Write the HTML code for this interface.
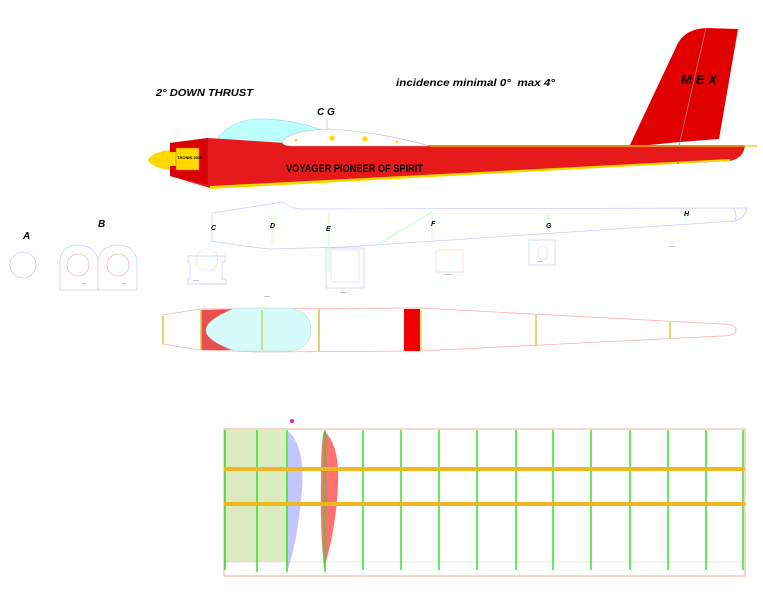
<!DOCTYPE html>
<html><head><meta charset="utf-8"><style>
html,body{margin:0;padding:0;background:#fff;}
svg{display:block;font-family:"Liberation Sans",sans-serif;}
</style></head><body>
<svg width="763" height="603" viewBox="0 0 763 603" xmlns="http://www.w3.org/2000/svg">
<text x="156" y="96" font-size="10" font-weight="bold" font-style="italic" textLength="97" lengthAdjust="spacingAndGlyphs">2° DOWN THRUST</text>
<text x="396" y="86" font-size="10" font-weight="bold" font-style="italic" textLength="159" lengthAdjust="spacingAndGlyphs" xml:space="preserve">incidence minimal 0°  max 4°</text>
<text x="317" y="115" font-size="10" font-weight="bold" font-style="italic">C G</text>
<line x1="327" y1="118" x2="327" y2="146" stroke="#bbb" stroke-width="0.6"/>
<path d="M629,147 L678,43 Q686,29 706,28 L738,29 L719,139 L680,142 Z" fill="#e00000"/>
<line x1="706" y1="28" x2="679" y2="146" stroke="#b88" stroke-width="0.7"/>
<text x="681" y="84" font-size="13" font-weight="bold" font-style="italic" textLength="36" lengthAdjust="spacing">M E X</text>
<path d="M213,146 Q225,122 255,119 Q290,118 325,131 L300,145 Z" fill="#bff" stroke="#9cf" stroke-width="0.6"/>
<path d="M170,143 L208,138 L285,143 L300,145 L745,145 Q744,158 730,161 L210,188 L170,176 Z" fill="#e61a1a"/>
<path d="M170,143 L208,138 L208,185 L170,176 Z" fill="#d80000"/>
<path d="M210,186 L730,159 L730,161 L210,189 Z" fill="#f0d800"/>
<line x1="430" y1="146" x2="757" y2="146" stroke="#e8d000" stroke-width="1.3"/>
<line x1="207" y1="140" x2="207" y2="184" stroke="#b22" stroke-width="0.6"/>
<line x1="678" y1="146" x2="678" y2="164" stroke="#a33" stroke-width="0.6"/>
<path d="M283,140 Q295,130 330,129 Q380,132 430,146 L290,146 Q280,145 283,140 Z" fill="#fff" stroke="#bbb" stroke-width="0.6"/>
<circle cx="332" cy="138" r="2.6" fill="#ffd800"/><circle cx="365" cy="139" r="2.6" fill="#ffd800"/>
<circle cx="296" cy="140" r="1.4" fill="#ffd800"/><circle cx="397" cy="142" r="1.4" fill="#ffd800"/>
<path d="M170,150 Q152,152 148,160 Q152,168 170,170 Z" fill="#ffd800"/>
<rect x="170" y="152" width="8" height="14" fill="#ffd800"/>
<rect x="176" y="148" width="23" height="22" fill="#ffd800" stroke="#d60" stroke-width="0.5"/>
<text x="177" y="159" font-size="4" font-weight="bold">TRONIK 2815</text>
<text x="286" y="172" font-size="11" font-weight="bold" textLength="137" lengthAdjust="spacingAndGlyphs">VOYAGER PIONEER OF SPIRIT</text>
<g fill="none" stroke="#c8c8ff" stroke-width="0.7">
<path d="M212,213 L283,202 Q290,208 300,209 L747,208 Q745,218 735,221 L345,247 L270,249 Q240,246 212,241 Z"/>
<path d="M734,208 Q738,218 734,221"/>
<path d="M60,290 L60,262 Q60,246 78,245 Q97,246 98,262 L98,290 Z M98,290 L98,262 Q99,246 118,245 Q136,246 137,262 L137,290 Z"/>
<path d="M188,256 L225,256 L225,262 L222,262 L222,279 L226,279 L226,284 L188,284 L188,279 L190,279 L190,262 L188,262 Z"/>
<rect x="326" y="248" width="38" height="40"/>
<rect x="529" y="240" width="26" height="25"/>
</g>
<g fill="none" stroke="#f4a0a0" stroke-width="0.6">
<circle cx="23" cy="265" r="13" stroke="#c8a8e0"/>
<ellipse cx="78" cy="265" rx="11" ry="11"/><ellipse cx="118" cy="265" rx="11" ry="11"/>
<ellipse cx="207" cy="260" rx="11" ry="11" stroke="#fcc"/>
<rect x="331" y="250" width="28" height="32" stroke="#fcc"/>
<rect x="436" y="250" width="27" height="22" stroke="#fcc"/>
<ellipse cx="543" cy="253" rx="5" ry="7" stroke="#fcc"/>
</g>
<g stroke="#bfb" stroke-width="0.8">
<line x1="272" y1="214" x2="272" y2="244"/><line x1="329" y1="212" x2="329" y2="272"/>
<line x1="432" y1="212" x2="377" y2="245"/><line x1="432" y1="212" x2="432" y2="242"/>
<line x1="548" y1="212" x2="548" y2="232"/><line x1="686" y1="212" x2="686" y2="222"/>
</g>
<g font-size="7" font-weight="bold" font-style="italic">
<text x="23" y="239" font-size="10">A</text><text x="98" y="227" font-size="10">B</text>
<text x="211" y="230">C</text><text x="270" y="228">D</text><text x="326" y="231">E</text>
<text x="431" y="226">F</text><text x="546" y="228">G</text><text x="684" y="216">H</text>
</g>
<g font-size="2" fill="#666"><text x="82" y="284">xxxx</text><text x="122" y="284">xxxx</text>
<text x="193" y="281">xxxxxx</text><text x="264" y="297">xxxxxx</text><text x="340" y="293">xxxxxx</text>
<text x="445" y="275">xxxxxx</text><text x="537" y="262">xxxxxx</text><text x="669" y="247">xxxxxx</text></g>
<path d="M163,315 L200,309 L420,308 L722,324 Q736,324 736,330 Q736,336 722,336 L420,351 L260,352 L200,350 L163,344 Z" fill="none" stroke="#f8b0b0" stroke-width="0.8"/>
<path d="M201,310 L235,309 Q207,320 207,330 Q207,340 235,350 L201,350 Z" fill="#e85050"/>
<path d="M235,308 L290,308 Q311,311 311,330 Q311,349 290,351 L235,351 Q205,340 206,330 Q206,320 235,308 Z" fill="#d5fbfb" stroke="#ccc" stroke-width="0.5"/>
<rect x="404" y="309" width="16" height="42" fill="#f00000"/>
<g stroke="#d8c840" stroke-width="1.5"><line x1="163" y1="316" x2="163" y2="344"/><line x1="201" y1="310" x2="201" y2="350"/>
<line x1="262" y1="310" x2="262" y2="350" stroke="#b8e060"/><line x1="319" y1="309" x2="319" y2="351"/><line x1="421" y1="309" x2="421" y2="351" stroke="#f0e050"/>
<line x1="536" y1="315" x2="536" y2="345"/><line x1="670" y1="322" x2="670" y2="338"/></g>
<rect x="224" y="429" width="521" height="147" fill="none" stroke="#e8b0a0" stroke-width="1"/>
<rect x="225" y="430" width="62" height="132" fill="#dcebc0"/>
<line x1="224" y1="562" x2="745" y2="562" stroke="#ccc" stroke-width="0.6"/>
<path d="M288,431 Q305,445 302,490 Q298,540 287,572 Z" fill="#c4c4ff"/>
<path d="M324,431 Q340,445 338,485 Q336,530 324,568 Q320,530 321,480 Q321,440 324,431 Z" fill="#ff7070"/>
<g stroke="#22e022" stroke-width="1.4">
<line x1="225" y1="430" x2="225" y2="570"/><line x1="257" y1="430" x2="257" y2="572"/><line x1="287" y1="430" x2="287" y2="572"/>
<line x1="325" y1="430" x2="325" y2="572"/><line x1="363" y1="430" x2="363" y2="570"/><line x1="401" y1="430" x2="401" y2="570"/>
<line x1="439" y1="430" x2="439" y2="570"/><line x1="477" y1="430" x2="477" y2="570"/><line x1="516" y1="430" x2="516" y2="570"/>
<line x1="553" y1="430" x2="553" y2="570"/><line x1="591" y1="430" x2="591" y2="570"/><line x1="630" y1="430" x2="630" y2="570"/>
<line x1="668" y1="430" x2="668" y2="570"/><line x1="706" y1="430" x2="706" y2="570"/><line x1="743" y1="430" x2="743" y2="570"/>
</g>
<rect x="224" y="467" width="521" height="4" fill="#f0b820"/>
<rect x="224" y="502" width="521" height="4" fill="#f0b820"/>
<circle cx="292" cy="421" r="2" fill="#e020e0"/>
</svg>
</body></html>
